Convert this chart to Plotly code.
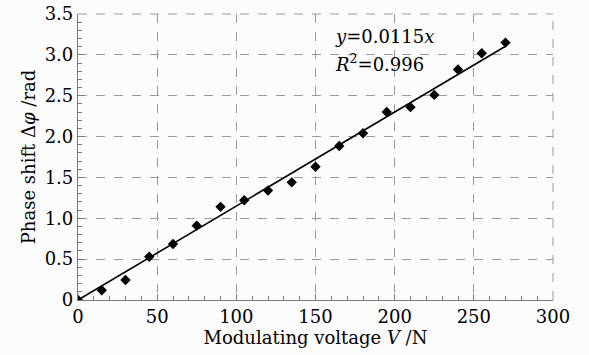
import plotly.graph_objects as go

voltage = [0, 15, 30, 45, 60, 75, 90, 105, 120, 135, 150, 165, 180, 195, 210, 225, 240, 255, 270]
phase = [0.0, 0.12, 0.245, 0.53, 0.685, 0.91, 1.14, 1.22, 1.34, 1.44, 1.63, 1.885, 2.04, 2.30, 2.36, 2.51, 2.82, 3.02, 3.15]
slope = 0.0115
fit_x = [0, 270]
fit_y = [slope * v for v in fit_x]
x_ticks = [0, 50, 100, 150, 200, 250, 300]
y_ticks = [0, 0.5, 1.0, 1.5, 2.0, 2.5, 3.0, 3.5]
y_labels = ["0", "0.5", "1.0", "1.5", "2.0", "2.5", "3.0", "3.5"]

font_family = "DejaVu Serif"
grid_color = "#9a9a9a"
axis_color = "#7a7a7a"

fig = go.Figure()
fig.add_trace(go.Scatter(x=fit_x, y=fit_y, mode="lines",
                         line=dict(color="black", width=1.6), showlegend=False))
fig.add_trace(go.Scatter(x=voltage, y=phase, mode="markers",
                         marker=dict(symbol="diamond", color="black", size=8),
                         showlegend=False))

axis_common = dict(
    showline=True, linecolor=axis_color, linewidth=1.2,
    showgrid=True, gridcolor=grid_color, griddash="dash", gridwidth=1,
    zeroline=False, ticks="inside", ticklen=6, tickcolor=axis_color,
    tickfont=dict(family=font_family, size=18, color="black"),
    automargin=False,
)

fig.update_layout(
    width=589, height=355,
    margin=dict(l=78, r=36, t=14, b=55),
    paper_bgcolor="#fcfcfc", plot_bgcolor="#fcfcfc",
    font=dict(family=font_family, color="black"),
    xaxis=dict(range=[0, 300], tickvals=x_ticks, ticktext=[str(t) for t in x_ticks],
               minor=dict(dtick=10, tick0=0, ticks="inside", ticklen=4, tickcolor=axis_color, showgrid=False),
               title=dict(text="Modulating voltage <i>V</i> /N", font=dict(family=font_family, size=18), standoff=2),
               **axis_common),
    yaxis=dict(range=[0, 3.5], tickvals=y_ticks, ticktext=y_labels,
               minor=dict(dtick=0.1, tick0=0, ticks="inside", ticklen=4, tickcolor=axis_color, showgrid=False),
               title=dict(text="Phase shift Δ<i>φ</i> /rad", font=dict(family=font_family, size=18), standoff=4),
               **axis_common),
    shapes=[
        dict(type="line", xref="paper", yref="paper", x0=0, x1=1, y0=1, y1=1,
             line=dict(color=grid_color, width=1, dash="dash")),
        dict(type="line", xref="paper", yref="paper", x0=1, x1=1, y0=0, y1=1,
             line=dict(color=grid_color, width=1, dash="dash")),
    ],
)

fig.add_annotation(x=0.537, y=0.92, xref="paper", yref="paper", xanchor="left", yanchor="middle",
                   text="<i>y</i>=0.0115<i>x</i>", showarrow=False,
                   font=dict(family=font_family, size=18, color="black"))
fig.add_annotation(x=0.537, y=0.83, xref="paper", yref="paper", xanchor="left", yanchor="middle",
                   text="<i>R</i><sup>2</sup>=0.996", showarrow=False,
                   font=dict(family=font_family, size=18, color="black"))

fig.write_html("out.html", config={"displayModeBar": False},
               post_script="document.body.style.margin='0';document.body.style.background='#fcfcfc';")
